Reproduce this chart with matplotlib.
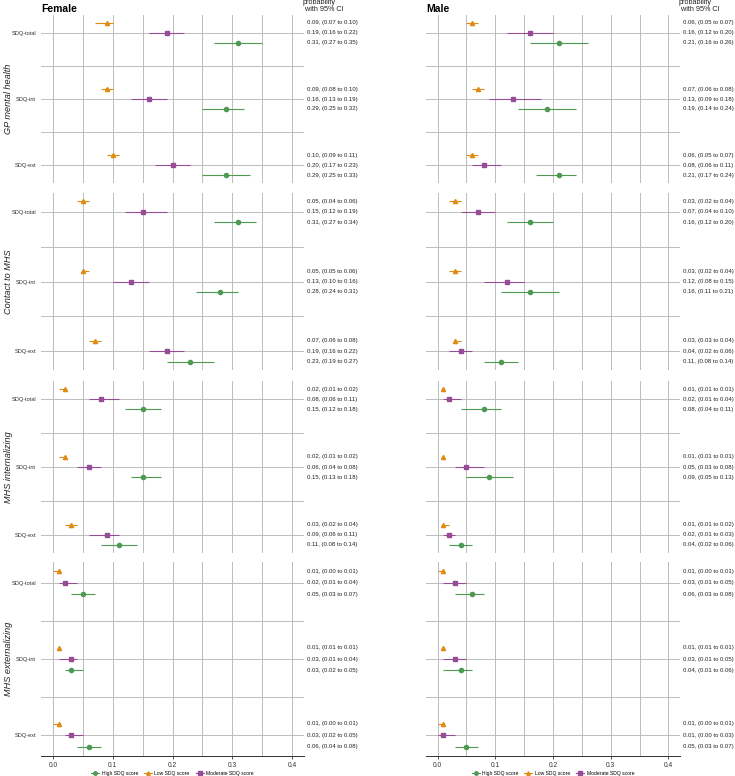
import numpy as np
import matplotlib
matplotlib.use('Agg')
from matplotlib import pyplot as plt
from matplotlib.lines import Line2D

plt.rcParams['font.family'] = ['Liberation Sans', 'DejaVu Sans']

outcomes = ['GP mental health', 'Contact to MHS', 'MHS internalizing', 'MHS externalizing']
measures = ['SDQ-total', 'SDQ-int', 'SDQ-ext']
groups = ['Low SDQ score', 'Moderate SDQ score', 'High SDQ score']
sexes = ['Female', 'Male']

# [outcome][measure][group: low, moderate, high]
female_est = [[[0.09, 0.19, 0.31], [0.09, 0.16, 0.29], [0.10, 0.20, 0.29]],
              [[0.05, 0.15, 0.31], [0.05, 0.13, 0.28], [0.07, 0.19, 0.23]],
              [[0.02, 0.08, 0.15], [0.02, 0.06, 0.15], [0.03, 0.09, 0.11]],
              [[0.01, 0.02, 0.05], [0.01, 0.03, 0.03], [0.01, 0.03, 0.06]]]
female_lo = [[[0.07, 0.16, 0.27], [0.08, 0.13, 0.25], [0.09, 0.17, 0.25]],
             [[0.04, 0.12, 0.27], [0.05, 0.10, 0.24], [0.06, 0.16, 0.19]],
             [[0.01, 0.06, 0.12], [0.01, 0.04, 0.13], [0.02, 0.06, 0.08]],
             [[0.00, 0.01, 0.03], [0.01, 0.01, 0.02], [0.00, 0.02, 0.04]]]
female_hi = [[[0.10, 0.22, 0.35], [0.10, 0.19, 0.32], [0.11, 0.23, 0.33]],
             [[0.06, 0.19, 0.34], [0.06, 0.16, 0.31], [0.08, 0.22, 0.27]],
             [[0.02, 0.11, 0.18], [0.02, 0.08, 0.18], [0.04, 0.11, 0.14]],
             [[0.01, 0.04, 0.07], [0.01, 0.04, 0.05], [0.01, 0.05, 0.08]]]

male_est = [[[0.06, 0.16, 0.21], [0.07, 0.13, 0.19], [0.06, 0.08, 0.21]],
            [[0.03, 0.07, 0.16], [0.03, 0.12, 0.16], [0.03, 0.04, 0.11]],
            [[0.01, 0.02, 0.08], [0.01, 0.05, 0.09], [0.01, 0.02, 0.04]],
            [[0.01, 0.03, 0.06], [0.01, 0.03, 0.04], [0.01, 0.01, 0.05]]]
male_lo = [[[0.05, 0.12, 0.16], [0.06, 0.09, 0.14], [0.05, 0.06, 0.17]],
           [[0.02, 0.04, 0.12], [0.02, 0.08, 0.11], [0.03, 0.02, 0.08]],
           [[0.01, 0.01, 0.04], [0.01, 0.03, 0.05], [0.01, 0.01, 0.02]],
           [[0.00, 0.01, 0.03], [0.01, 0.01, 0.01], [0.00, 0.00, 0.03]]]
male_hi = [[[0.07, 0.20, 0.26], [0.08, 0.18, 0.24], [0.07, 0.11, 0.24]],
           [[0.04, 0.10, 0.20], [0.04, 0.15, 0.21], [0.04, 0.06, 0.14]],
           [[0.01, 0.04, 0.11], [0.01, 0.08, 0.13], [0.02, 0.03, 0.06]],
           [[0.01, 0.05, 0.08], [0.01, 0.05, 0.06], [0.01, 0.03, 0.07]]]

data = {'Female': (female_est, female_lo, female_hi),
        'Male': (male_est, male_lo, male_hi)}

colors = {'Low SDQ score': '#E08A12', 'Moderate SDQ score': '#974C96',
          'High SDQ score': '#4E9A52'}
markers = {'Low SDQ score': '^', 'Moderate SDQ score': 's', 'High SDQ score': 'o'}
offsets = {'Low SDQ score': -0.15, 'Moderate SDQ score': 0.0, 'High SDQ score': 0.15}
gridc = '#bcbcbc'

W, H = 735, 776
fig = plt.figure(figsize=(W/100, H/100), dpi=100)

# panel extents in pixels
cols_px = [(41, 304), (426, 680)]
rows_px = [(15, 183), (193, 370), (381, 553), (562, 756)]

for c, sex in enumerate(sexes):
    est, lo, hi = data[sex]
    x0, x1 = cols_px[c]
    for r, outc in enumerate(outcomes):
        y0, y1 = rows_px[r]
        ax = fig.add_axes([x0/W, 1 - y1/H, (x1-x0)/W, (y1-y0)/H])
        ax.set_xlim(-0.02, 0.42)
        ax.set_ylim(2.27, -0.27)
        for xv in np.arange(0, 0.401, 0.05):
            ax.axvline(xv, color=gridc, lw=0.7, zorder=0)
        for yv in [0, 1, 2, 0.5, 1.5]:
            ax.axhline(yv, color=gridc, lw=0.7, zorder=0)
        for m in range(3):
            for g, grp in enumerate(groups):
                yy = m + offsets[grp]
                ax.plot([lo[r][m][g], hi[r][m][g]], [yy, yy], color=colors[grp],
                        lw=0.8, solid_capstyle='butt', zorder=2)
                ax.plot(est[r][m][g], yy, marker=markers[grp], color=colors[grp],
                        ms=3, lw=0, zorder=3)
                ax.text(1.01, yy, '{:.2f}, ({:.2f} to {:.2f})'.format(
                        est[r][m][g], lo[r][m][g], hi[r][m][g]),
                        transform=ax.get_yaxis_transform(), fontsize=4.3,
                        va='center', ha='left', color='#222222')
        for s in ax.spines.values():
            s.set_visible(False)
        ax.set_yticks(range(3))
        if c == 0:
            ax.set_yticklabels(measures, fontsize=4.1, color='#333333')
            ax.set_ylabel(outc, fontsize=6.6, style='italic', color='#222222')
            ax.yaxis.set_label_coords(-0.105, 0.5)
        else:
            ax.set_yticklabels([])
        ax.tick_params(axis='y', length=0, pad=3.5)
        ax.set_xticks(np.arange(0, 0.41, 0.1))
        if r == len(outcomes) - 1:
            ax.spines['bottom'].set_visible(True)
            ax.spines['bottom'].set_color('#333333')
            ax.spines['bottom'].set_linewidth(0.7)
            ax.set_xticklabels(['0.0', '0.1', '0.2', '0.3', '0.4'])
            ax.tick_params(axis='x', length=2.5, width=0.6, color='#333333',
                           labelsize=4.8, labelcolor='#333333', pad=1.5)
            handles = [Line2D([0], [0], color=colors[g], marker=markers[g], ms=2.5,
                              lw=0.8) for g in ['High SDQ score', 'Low SDQ score',
                                                'Moderate SDQ score']]
            ax.legend(handles, ['High SDQ score', 'Low SDQ score', 'Moderate SDQ score'],
                      loc='center', bbox_to_anchor=(0.5, -0.088), ncol=3,
                      frameon=False, fontsize=3.6, handlelength=1.6,
                      columnspacing=1.2, handletextpad=0.5)
        else:
            ax.tick_params(axis='x', length=0, labelbottom=False)
        if r == 0:
            ax.set_title(sex, loc='left', fontsize=7.5, fontweight='bold', pad=2)
    fig.text((x1 - 1)/W, 1 + 1/H, 'probability\n with 95% CI', fontsize=5.2,
             va='top', ha='left', color='#222222', linespacing=1.0)

fig.savefig('out.png', dpi=100)
